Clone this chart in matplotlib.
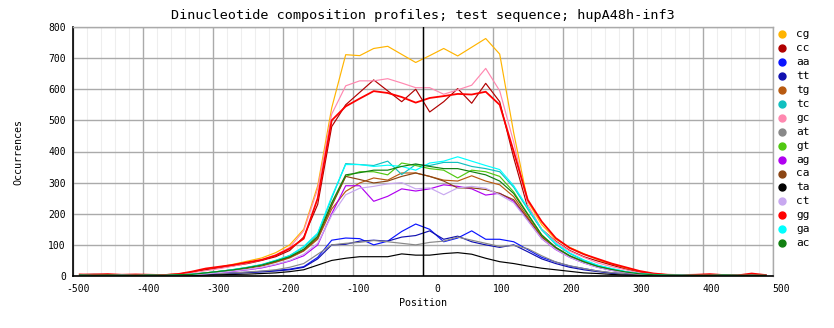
import matplotlib
matplotlib.use("Agg")
import matplotlib.pyplot as plt
import matplotlib.transforms as mtransforms
from matplotlib.lines import Line2D
import numpy as np

plt.rcParams['font.family'] = ['DejaVu Sans Mono']
plt.rcParams['axes.unicode_minus'] = False

title = "Dinucleotide composition profiles; test sequence; hupA48h-inf3"
xlabel = "Position"
ylabel = "Occurrences"

positions = list(range(-490, 491, 20))

names = ["cg", "cc", "aa", "tt", "tg", "tc", "gc", "at", "gt", "ag", "ca", "ta", "ct", "gg", "ga", "ac"]
colors = ["#FFB400", "#B00000", "#0A14FF", "#1010B0", "#B85A10", "#10C0C0", "#FF88B0", "#888888",
          "#50C810", "#B000F0", "#8B4513", "#000000", "#C8A8F0", "#FF0000", "#00FFFF", "#108010"]

cg = [3, 2, 3, 2, 3, 2, 4, 6, 12, 20, 29, 38, 48, 58, 75, 100, 150, 290, 540,
      711, 708, 731, 738, 712, 686, 708, 731, 707, 735, 763, 713,
      460, 240, 165, 118, 92, 72, 52, 38, 25, 14, 7, 4, 3, 2, 3, 2, 2, 3, 2]
cc = [4, 6, 5, 3, 4, 3, 4, 6, 12, 20, 26, 33, 40, 50, 62, 82, 125, 230, 480,
      550, 590, 630, 595, 560, 600, 527, 560, 602, 555, 619, 560,
      380, 220, 150, 112, 82, 62, 48, 35, 22, 12, 6, 4, 3, 3, 2, 3, 3, 5, 3]
aa = [2, 1, 2, 3, 2, 1, 2, 3, 4, 6, 8, 10, 12, 15, 18, 22, 30, 60, 115,
      122, 120, 100, 112, 143, 167, 150, 110, 122, 145, 118, 118,
      110, 85, 60, 45, 32, 24, 16, 10, 8, 5, 3, 2, 2, 1, 2, 2, 2, 2, 2]
tt = [1, 2, 1, 2, 3, 2, 1, 2, 3, 5, 7, 9, 11, 13, 16, 20, 28, 55, 100,
      102, 112, 115, 112, 125, 130, 145, 118, 128, 110, 100, 92,
      100, 78, 55, 40, 28, 20, 14, 9, 6, 4, 2, 1, 2, 1, 1, 2, 1, 2, 1]
tg = [2, 3, 2, 3, 2, 3, 3, 4, 5, 9, 14, 19, 25, 32, 44, 58, 80, 118, 215,
      272, 299, 315, 308, 331, 331, 320, 308, 305, 322, 305, 293,
      255, 190, 128, 92, 65, 46, 31, 21, 12, 7, 4, 3, 2, 2, 3, 2, 2, 3, 2]
tc = [3, 2, 3, 2, 3, 2, 3, 4, 6, 10, 15, 21, 28, 37, 50, 66, 92, 135, 250,
      361, 358, 355, 369, 326, 358, 355, 365, 365, 352, 345, 335,
      285, 215, 148, 102, 72, 50, 34, 23, 14, 8, 4, 3, 2, 3, 2, 2, 3, 2, 2]
gc = [2, 3, 2, 4, 3, 2, 3, 5, 10, 17, 24, 32, 42, 52, 68, 92, 145, 280, 520,
      611, 627, 627, 634, 620, 605, 605, 584, 598, 613, 667, 595,
      430, 230, 150, 110, 80, 60, 42, 30, 20, 10, 5, 3, 2, 2, 3, 2, 2, 3, 2]
at = [2, 2, 1, 2, 2, 3, 2, 3, 4, 6, 8, 10, 13, 16, 20, 28, 40, 70, 100,
      105, 108, 114, 110, 105, 100, 108, 112, 125, 115, 105, 95,
      98, 88, 65, 45, 33, 24, 16, 11, 7, 4, 3, 2, 2, 2, 1, 2, 2, 2, 2]
gt = [2, 3, 2, 2, 3, 2, 3, 4, 5, 10, 15, 20, 27, 35, 48, 62, 85, 125, 230,
      320, 335, 335, 325, 363, 355, 345, 340, 315, 340, 335, 320,
      270, 200, 132, 90, 64, 45, 30, 20, 12, 7, 4, 3, 2, 2, 3, 2, 2, 3, 2]
ag = [2, 2, 3, 2, 2, 3, 2, 3, 4, 7, 11, 15, 20, 26, 36, 48, 65, 100, 200,
      290, 290, 240, 256, 280, 273, 280, 293, 288, 280, 260, 266,
      240, 180, 120, 85, 60, 42, 28, 18, 11, 6, 4, 2, 2, 3, 2, 2, 2, 2, 3]
ca = [3, 2, 2, 3, 2, 2, 3, 4, 5, 9, 14, 19, 26, 34, 46, 60, 82, 122, 225,
      320, 310, 299, 305, 320, 331, 320, 305, 283, 283, 278, 265,
      245, 185, 125, 88, 62, 44, 29, 19, 11, 6, 4, 3, 2, 2, 2, 3, 2, 2, 2]
ta = [0, 1, 0, 1, 0, 1, 0, 1, 2, 3, 4, 5, 6, 8, 10, 14, 20, 35, 50,
      57, 62, 62, 62, 71, 67, 67, 72, 75, 70, 57, 46,
      40, 32, 25, 20, 15, 10, 8, 5, 3, 2, 1, 1, 0, 1, 0, 1, 0, 1, 0]
ct = [2, 2, 3, 2, 3, 2, 2, 3, 4, 7, 11, 16, 21, 28, 38, 50, 70, 105, 195,
      261, 282, 288, 296, 300, 280, 283, 261, 283, 288, 282, 261,
      235, 178, 120, 86, 60, 42, 28, 18, 11, 6, 3, 2, 2, 2, 3, 2, 2, 2, 2]
gg = [5, 4, 6, 4, 5, 4, 3, 6, 14, 24, 30, 36, 44, 52, 66, 88, 120, 250, 500,
      545, 570, 594, 588, 575, 557, 572, 578, 585, 583, 592, 550,
      400, 245, 175, 122, 90, 70, 55, 40, 28, 16, 8, 4, 3, 4, 6, 3, 2, 8, 3]
ga = [3, 2, 2, 3, 2, 3, 2, 4, 6, 10, 15, 21, 28, 36, 50, 65, 95, 138, 255,
      358, 358, 352, 356, 352, 340, 363, 369, 383, 369, 355, 342,
      290, 220, 150, 105, 74, 52, 35, 24, 14, 8, 5, 3, 3, 2, 2, 3, 2, 2, 2]
ac = [3, 2, 3, 2, 2, 3, 2, 4, 5, 10, 15, 20, 27, 35, 48, 62, 86, 128, 235,
      325, 332, 340, 340, 352, 360, 352, 345, 345, 335, 325, 305,
      265, 198, 132, 92, 65, 46, 31, 21, 13, 7, 4, 3, 2, 2, 2, 3, 2, 2, 2]

series = [cg, cc, aa, tt, tg, tc, gc, at, gt, ag, ca, ta, ct, gg, ga, ac]

xticks = [-500, -400, -300, -200, -100, 0, 100, 200, 300, 400, 500]
yticks = [0, 100, 200, 300, 400, 500, 600, 700, 800]

W, H = 834, 328
fig = plt.figure(figsize=(W / 100, H / 100), dpi=100)
ax = fig.add_axes([72.7 / W, 1 - 276 / H, 700 / W, 249 / H])

# minor grid
ax.set_xticks(np.arange(-500, 501, 20), minor=True)
ax.grid(True, which='minor', axis='x', color='#EEEEEE', lw=0.8, zorder=0)
ax.grid(True, which='major', axis='both', color='#AAAAAA', lw=1.0, zorder=0.5)
ax.set_axisbelow(True)

for s, c, n in zip(series, colors, names):
    lw = 1.3 if n == 'gg' else 0.85
    ax.plot(positions, s, color=c, lw=lw, zorder=2)

ax.axvline(0, color='black', lw=1.0, zorder=3)

ax.set_xlim(-500, 500)
ax.set_ylim(0, 800)
ax.set_xticks(xticks)
ax.set_yticks(yticks)
ax.set_xticklabels([str(t) for t in xticks])
ax.set_yticklabels([str(t) for t in yticks])
ax.tick_params(which='both', length=0)
ax.tick_params(axis='x', pad=6, labelsize=7)
ax.tick_params(axis='y', pad=5, labelsize=7)

for t, lbl in zip(xticks, ax.get_xticklabels()):
    lbl.set_ha('left')
    if t < 0:
        dx = -6.7
    elif t == 0:
        dx = 11.3
    else:
        dx = 0
    lbl.set_transform(lbl.get_transform() + mtransforms.ScaledTranslation(dx / 100, 0, fig.dpi_scale_trans))

for side in ['top', 'right']:
    ax.spines[side].set_color('#AAAAAA')
    ax.spines[side].set_linewidth(1.0)
for side in ['left', 'bottom']:
    ax.spines[side].set_color('black')
    ax.spines[side].set_linewidth(1.2)

fig.text(422.7 / W, 1 - 15 / H, title, ha='center', va='center', fontsize=9.7)
fig.text(422.7 / W, 1 - 303 / H, xlabel, ha='center', va='center', fontsize=7.2)
fig.text(18 / W, 1 - 152 / H, ylabel, ha='center', va='center', rotation=90, fontsize=7.2)

for i, (n, c) in enumerate(zip(names, colors)):
    yy = 1 - (34 + i * 13.95) / H
    fig.add_artist(Line2D([782 / W], [yy], marker='o', markersize=5, color=c, ls='none',
                          transform=fig.transFigure))
    fig.text(796 / W, yy, n, ha='left', va='center', fontsize=8)

fig.savefig("out.png", dpi=100)
